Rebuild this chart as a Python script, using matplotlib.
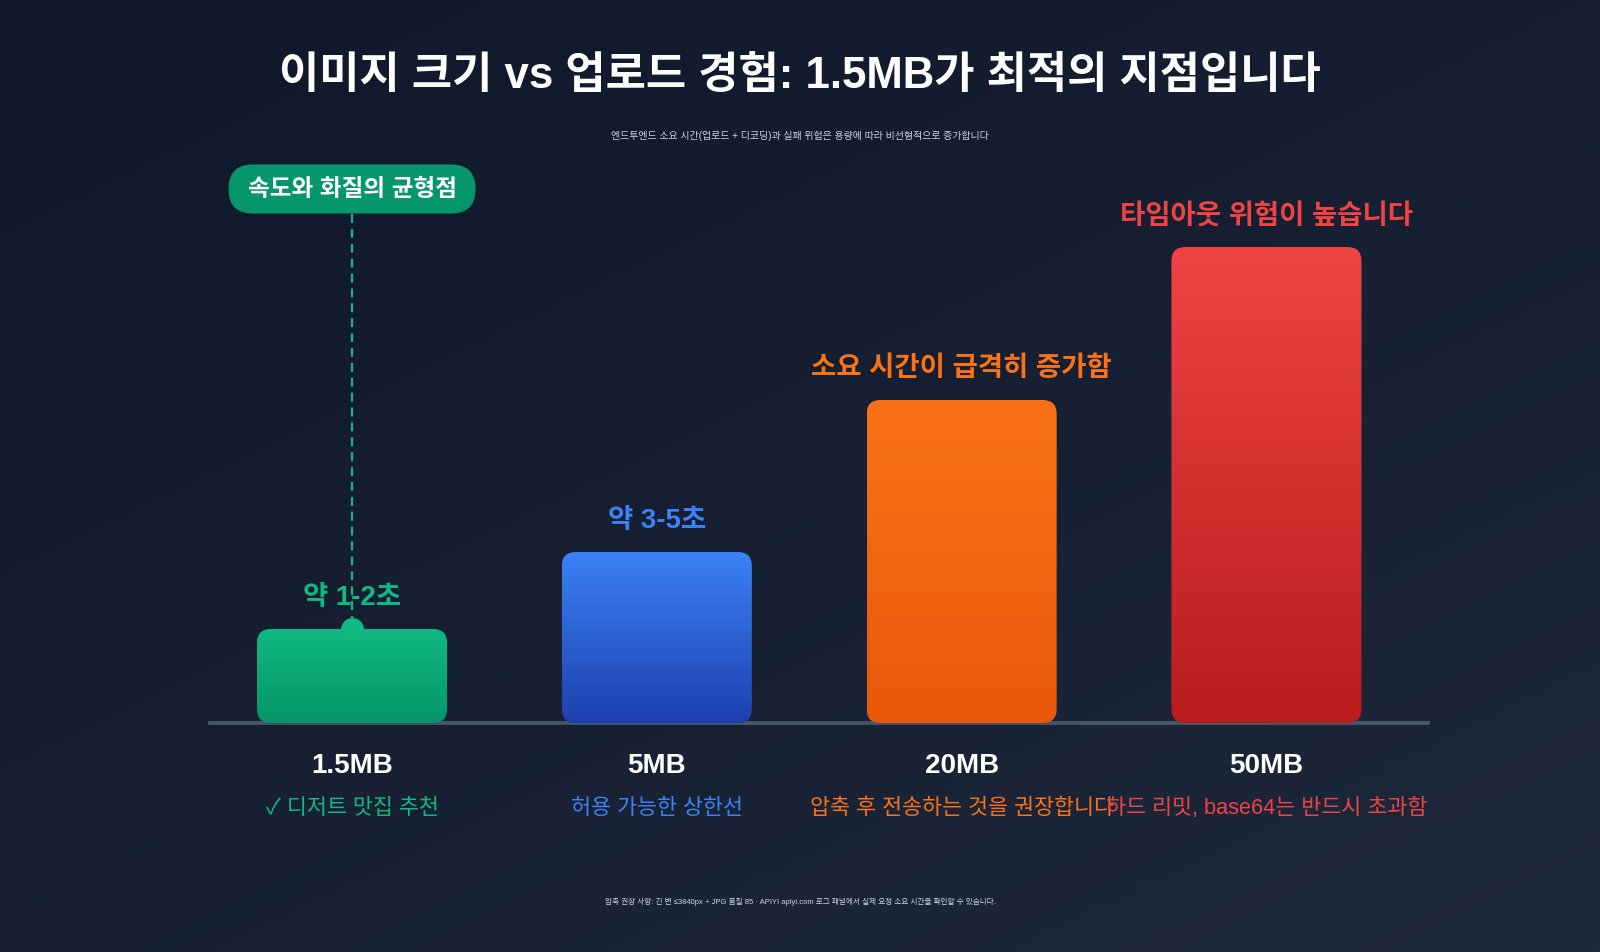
import numpy as np
import matplotlib
matplotlib.use("Agg")
import matplotlib.pyplot as plt
from matplotlib.patches import FancyBboxPatch
from matplotlib.colors import LinearSegmentedColormap, to_rgb

plt.rcParams['font.family'] = ['Liberation Sans', 'Noto Sans CJK KR', 'DejaVu Sans']

# ---------------- data ----------------
categories = ["1.5MB", "5MB", "20MB", "50MB"]
# relative end-to-end time / risk (visual bar height)
values = [0.94, 1.71, 3.23, 4.76]
value_labels = ["약 1-2초", "약 3-5초", "소요 시간이 급격히 증가함", "타임아웃 위험이 높습니다"]
sub_labels = ["✓ 디저트 맛집 추천", "허용 가능한 상한선", "압축 후 전송하는 것을 권장합니다", "하드 리밋, base64는 반드시 초과함"]
top_colors = ["#10b981", "#3b82f6", "#f97316", "#ef4444"]
bottom_colors = ["#059669", "#1e40af", "#ea580c", "#b91c1c"]
label_colors = ["#10b981", "#3b82f6", "#f97316", "#ef4444"]
sub_colors = ["#10b981", "#3b82f6", "#f97316", "#ef4444"]

title = "이미지 크기 vs 업로드 경험: 1.5MB가 최적의 지점입니다"
subtitle = "엔드투엔드 소요 시간(업로드 + 디코딩)과 실패 위험은 용량에 따라 비선형적으로 증가합니다"
footer = "압축 권장 사항: 긴 변 ≤3840px + JPG 품질 85 · APIYI apiyi.com 로그 패널에서 실제 요청 소요 시간을 확인할 수 있습니다."
callout = "속도와 화질의 균형점"

# ---------------- figure ----------------
W, H = 1600, 952
fig = plt.figure(figsize=(W / 100, H / 100), dpi=100)

# background gradient
bg = fig.add_axes([0, 0, 1, 1], zorder=-10)
bg.axis("off")
c0 = np.array(to_rgb("#0f172a"))
c1 = np.array(to_rgb("#1e293b"))
yy, xx = np.mgrid[0:1:200j, 0:1:300j]
t = (xx * 0.45 + yy * 0.55)
img = c0[None, None, :] * (1 - t[..., None]) + c1[None, None, :] * t[..., None]
bg.imshow(img, extent=[0, 1, 0, 1], aspect="auto", origin="upper")
bg.set_xlim(0, 1)
bg.set_ylim(0, 1)

# main axes: baseline at y=723px, x from 210 to 1428 px
base_px = 723
top_px = 100
ax = fig.add_axes([210 / W, (H - base_px) / H, (1428 - 210) / W, (base_px - top_px) / H])
ax.set_facecolor("none")
x_unit = 304.7  # px per category
y_unit = 100.0  # px per data unit
ax.set_xlim(-0.466, 3.53)
ax.set_ylim(0, (base_px - top_px) / y_unit)
ax.axis("off")

# baseline
ax.axhline(0, color="#475569", lw=2.8, zorder=1, clip_on=False)

bar_w = 190 / x_unit
r_px = 14
aspect = x_unit / y_unit
xs = np.arange(len(categories))
for i, (x, v) in enumerate(zip(xs, values)):
    patch = FancyBboxPatch((x - bar_w / 2, 0), bar_w, v,
                           boxstyle=f"round,pad=0,rounding_size={r_px / x_unit}",
                           mutation_aspect=aspect, facecolor="none",
                           edgecolor="none", zorder=2)
    ax.add_patch(patch)
    cmap = LinearSegmentedColormap.from_list("g", [bottom_colors[i], top_colors[i]])
    grad = np.linspace(0, 1, 256)[:, None]
    im = ax.imshow(grad, cmap=cmap, extent=[x - bar_w / 2, x + bar_w / 2, 0, v],
                   origin="lower", aspect="auto", zorder=2)
    im.set_clip_path(patch)
    # value label above the bar
    ax.annotate(value_labels[i], (x, v), xytext=(0, 22), textcoords="offset points",
                ha="center", va="center", fontsize=19.8, fontweight="bold",
                color=label_colors[i], zorder=3)
    # category label and sub label
    ax.annotate(categories[i], (x, 0), xytext=(0, -43 * 0.72), textcoords="offset points",
                ha="center", va="center", fontsize=20, fontweight="bold",
                color="white", annotation_clip=False)
    ax.annotate(sub_labels[i], (x, 0), xytext=(0, -85 * 0.72), textcoords="offset points",
                ha="center", va="center", fontsize=15.7, color=sub_colors[i],
                annotation_clip=False)

# call-out pill and dashed connector for the first bar
pill_cy = (base_px - 189) / y_unit
pill_w = 247 / x_unit
pill_h = 49 / y_unit
pill = FancyBboxPatch((xs[0] - pill_w / 2, pill_cy - pill_h / 2), pill_w, pill_h,
                      boxstyle=f"round,pad=0,rounding_size={24.4 / x_unit}",
                      mutation_aspect=aspect, facecolor="#059669", edgecolor="none",
                      zorder=5, clip_on=False)
ax.add_patch(pill)
ax.text(xs[0], pill_cy, callout, ha="center", va="center", fontsize=17,
        fontweight="bold", color="white", zorder=6)
ax.plot([xs[0], xs[0]], [pill_cy - pill_h / 2, values[0]], color="#10b981", lw=1.6,
        ls=(0, (4, 2.7)), zorder=4, clip_on=False)
ax.plot([xs[0]], [values[0]], "o", color="#10b981", markersize=16.5, zorder=4,
        markeredgewidth=0)

# titles
fig.text(0.5, 1 - 77 / H, title, ha="center", va="center", fontsize=31.5,
         fontweight="bold", color="white")
fig.text(0.5, 1 - 136 / H, subtitle, ha="center", va="center", fontsize=7.2,
         color="#cbd5e1")
fig.text(0.5, 1 - 902 / H, footer, ha="center", va="center", fontsize=5.5,
         color="#cbd5e1")

fig.savefig("out.png", dpi=100)
